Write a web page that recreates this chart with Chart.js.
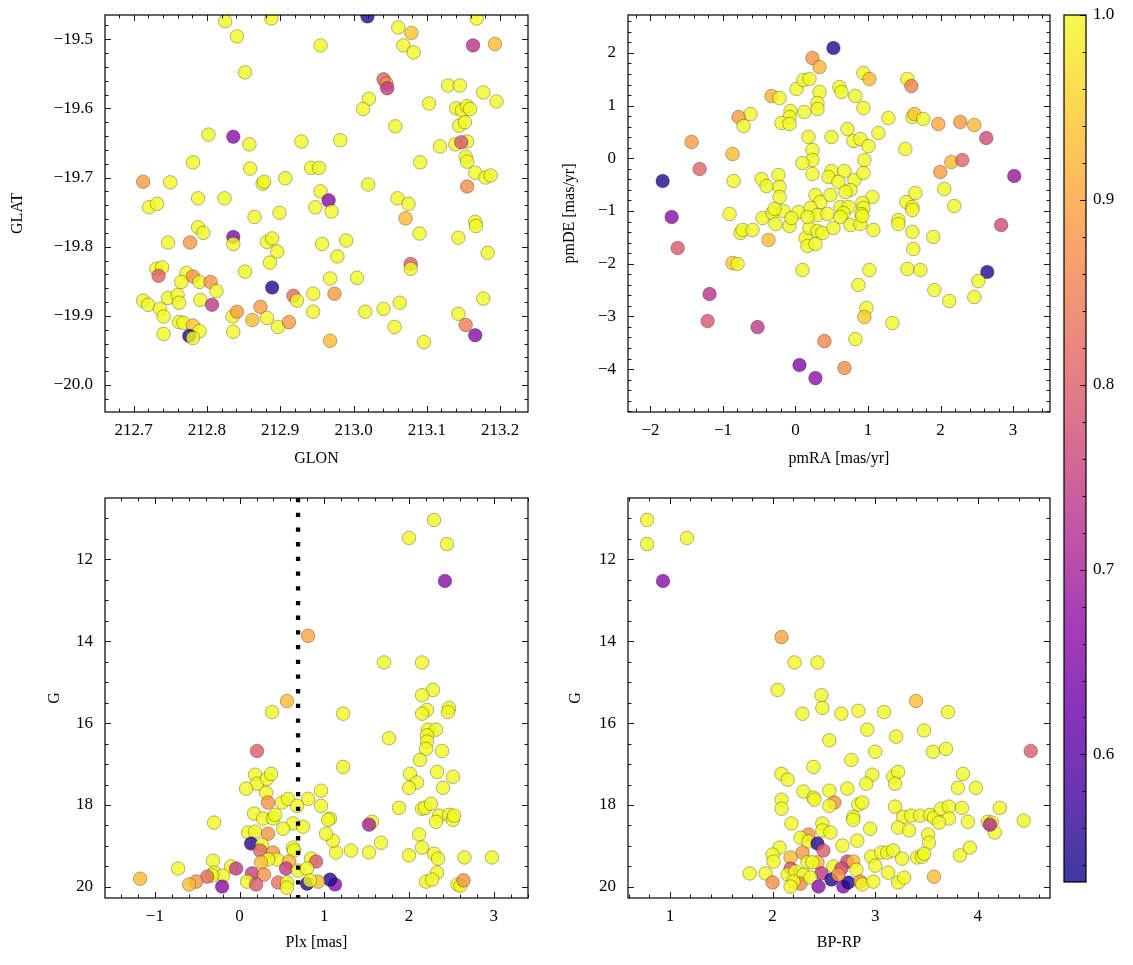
<!DOCTYPE html>
<html><head><meta charset="utf-8">
<script src="https://cdn.jsdelivr.net/npm/chart.js@4/dist/chart.umd.min.js"></script>
<style>
html,body{margin:0;padding:0;background:#fff;}
body{width:1133px;height:965px;position:relative;overflow:hidden;}
canvas{position:absolute;}
</style></head><body>
<canvas id="cTL" width="540" height="475" style="left:0px;top:0px;width:540px;height:475px"></canvas>
<canvas id="cTR" width="500" height="475" style="left:560px;top:0px;width:500px;height:475px"></canvas>
<canvas id="cBL" width="540" height="485" style="left:0px;top:480px;width:540px;height:485px"></canvas>
<canvas id="cBR" width="500" height="485" style="left:560px;top:480px;width:500px;height:485px"></canvas>
<canvas id="cCB" width="78" height="965" style="left:1055px;top:0px;width:78px;height:965px"></canvas>
<script>
// ---------------- DATA ----------------
// Panel 1: GLON / GLAT
const glonVals = [212.825,212.888,212.841,212.852,212.802,212.836,212.858,212.929,212.781,212.859,212.713,212.750,212.876,212.878,212.907,212.942,212.953,212.788,212.824,212.721,212.732,212.865,212.899,212.948,212.955,213.019,213.061,213.079,213.068,213.082,213.168,213.163,213.193,213.041,213.045,213.046,213.021,213.013,213.103,213.129,213.145,213.177,213.195,213.140,213.148,213.155,213.159,213.144,213.152,213.057,212.982,213.118,213.139,213.155,213.147,213.153,213.155,213.091,213.166,213.180,213.187,213.155,213.020,212.955,212.966,213.060,213.075,212.970,213.071,213.166,212.788,212.795,212.747,212.777,212.836,212.836,212.882,212.889,212.896,212.886,212.731,212.739,212.734,212.772,212.781,212.765,212.790,212.805,212.813,212.852,212.889,212.918,212.923,212.945,212.713,212.720,212.747,212.760,212.762,212.791,212.807,212.736,212.741,212.835,212.841,212.862,212.873,212.882,212.897,212.912,212.945,212.762,212.768,212.781,212.790,212.741,212.776,212.781,212.836,213.090,213.143,213.167,213.183,212.957,212.990,212.978,213.078,213.078,212.968,213.005,212.974,213.016,213.041,213.063,213.056,213.177,213.143,213.153,213.166,212.968,213.096];
const glatVals = [-19.474,-19.470,-19.496,-19.548,-19.638,-19.641,-19.652,-19.648,-19.678,-19.687,-19.706,-19.707,-19.709,-19.706,-19.701,-19.686,-19.686,-19.730,-19.730,-19.743,-19.738,-19.757,-19.751,-19.743,-19.509,-19.467,-19.483,-19.491,-19.509,-19.519,-19.470,-19.509,-19.507,-19.558,-19.564,-19.571,-19.586,-19.601,-19.593,-19.567,-19.567,-19.577,-19.590,-19.600,-19.603,-19.597,-19.601,-19.625,-19.620,-19.626,-19.646,-19.655,-19.652,-19.648,-19.649,-19.670,-19.677,-19.678,-19.693,-19.700,-19.697,-19.713,-19.710,-19.720,-19.733,-19.730,-19.738,-19.749,-19.759,-19.764,-19.772,-19.780,-19.794,-19.794,-19.786,-19.796,-19.793,-19.788,-19.807,-19.823,-19.832,-19.830,-19.842,-19.838,-19.843,-19.851,-19.851,-19.851,-19.864,-19.836,-19.859,-19.871,-19.878,-19.868,-19.878,-19.884,-19.874,-19.870,-19.881,-19.877,-19.884,-19.890,-19.901,-19.901,-19.894,-19.906,-19.887,-19.903,-19.916,-19.909,-19.894,-19.909,-19.910,-19.914,-19.922,-19.926,-19.929,-19.932,-19.923,-19.781,-19.787,-19.770,-19.809,-19.796,-19.791,-19.814,-19.825,-19.832,-19.846,-19.845,-19.868,-19.894,-19.890,-19.881,-19.916,-19.875,-19.897,-19.913,-19.928,-19.936,-19.938];
const probSky = [1,1,1,1,1,0.66,1,1,1,1,0.89,1,1,1,1,1,1,1,1,1,1,1,1,1,1,0.55,1,0.94,1,1,1,0.73,0.93,0.81,0.87,0.74,1,1,1,1,1,1,1,1,1,1,1,1,1,1,1,1,1,1,0.79,1,1,1,1,1,1,0.87,1,1,0.66,1,1,1,0.93,1,1,1,1,0.89,0.65,1,1,1,1,1,1,1,0.80,1,0.88,1,1,0.88,1,1,0.55,0.82,1,1,1,1,1,1,1,1,0.74,1,1,1,0.89,0.93,0.89,1,1,0.89,1,1,1,0.94,1,1,0.54,1,1,1,1,1,1,1,1,1,0.79,1,1,1,0.89,1,1,1,1,1,1,0.85,0.66,0.93,1];

// Panel 2: proper motions
const pmraVals = [0.523,0.234,0.331,0.014,0.110,0.193,0.331,0.303,0.303,-0.331,-0.220,-0.069,-0.083,-0.193,-0.083,0.124,-0.620,-0.785,-0.716,0.179,0.496,0.234,0.234,0.096,0.234,-1.433,-0.868,-1.322,-1.832,-0.854,-0.234,-0.468,-0.399,-0.220,-0.220,0.496,0.455,0.275,0.344,0.482,-1.708,-0.909,-0.455,-0.317,-0.165,-0.289,0.041,0.207,0.303,0.441,0.937,1.019,0.606,0.634,0.826,0.937,1.281,1.543,1.598,1.612,1.639,1.763,1.970,2.273,2.466,2.631,0.716,0.799,0.895,1.006,1.143,1.515,0.950,1.997,2.149,2.300,3.017,2.052,2.190,0.675,0.592,0.813,0.937,0.758,0.689,1.061,0.923,0.937,1.529,1.653,1.612,0.620,0.730,0.661,0.909,1.419,-1.625,-0.758,-0.730,-0.592,-0.372,-0.275,-0.083,-0.055,0.138,0.165,0.275,0.193,0.303,0.372,0.165,0.523,-0.868,-0.799,0.096,-1.185,-1.212,-0.523,0.399,0.055,0.275,2.837,2.645,2.521,2.466,2.121,1.915,1.901,1.625,1.612,1.419,1.543,1.722,1.074,1.019,0.868,0.978,0.950,1.336,0.826,0.675,0.620,0.758,0.895,0.923,1.612];
const pmdeVals = [2.093,1.903,1.732,1.315,1.486,1.505,1.258,1.049,0.935,1.182,1.144,0.897,0.783,0.670,0.651,0.878,0.840,0.783,0.613,0.404,0.404,0.157,-0.032,-0.089,-0.298,0.309,0.082,-0.203,-0.431,-0.431,-0.317,-0.393,-0.526,-0.545,-0.734,-0.241,-0.355,-0.696,-0.829,-0.696,-1.114,-1.057,-1.133,-1.038,-1.000,-0.962,-1.019,-0.943,-1.076,-1.057,1.618,1.505,1.353,1.258,1.182,0.954,0.764,1.505,1.372,0.783,0.840,0.745,0.651,0.689,0.632,0.385,0.556,0.328,0.366,0.233,0.480,0.176,-0.032,-0.260,-0.070,-0.032,-0.336,-0.583,-0.905,-0.241,-0.450,-0.412,-0.279,-0.602,-0.639,-0.734,-0.848,-0.943,-0.829,-0.658,-0.924,-0.924,-0.924,-1.038,-1.057,-1.171,-1.702,-1.417,-1.360,-1.360,-1.550,-1.247,-1.285,-1.133,-1.512,-1.664,-1.626,-1.323,-1.379,-1.417,-1.114,-1.323,-1.987,-2.006,-2.120,-2.576,-3.089,-3.203,-3.469,-3.924,-4.172,-1.266,-2.158,-2.329,-2.633,-2.709,-2.500,-1.493,-1.721,-1.398,-1.247,-2.101,-2.120,-1.360,-2.120,-2.405,-2.842,-3.013,-3.127,-3.431,-3.981,-1.114,-1.266,-1.247,-1.095,-0.981];
const probPM = [0.55,0.88,0.92,1,1,1,1,1,1,0.92,1,1,1,1,1,1,1,0.89,1,1,1,1,1,1,1,0.89,0.93,0.81,0.55,1,1,1,1,1,1,1,1,1,1,1,0.66,1,1,1,1,1,1,1,1,1,1,0.93,1,1,1,1,1,1,0.85,1,0.94,1,0.90,0.89,0.93,0.77,1,1,1,1,1,1,1,0.89,0.93,0.81,0.68,1,1,1,1,1,1,1,1,1,1,1,1,1,1,1,1,1,1,1,0.79,1,1,1,0.93,1,1,1,1,1,1,1,1,1,1,1,0.95,1,1,0.73,0.79,0.74,0.86,0.65,0.67,0.77,0.55,1,1,1,1,1,1,1,1,1,1,1,1,1,1,0.95,1,1,0.87,1,1,1,1,1];

// Panel 3: parallax vs G
const plxVals = [2.294,1.999,2.447,2.423,0.808,1.704,2.153,2.283,2.153,2.212,2.153,2.471,2.459,1.221,2.224,2.318,2.212,2.212,2.200,2.129,1.763,2.388,1.221,2.011,2.330,2.094,1.999,2.518,2.400,1.881,2.153,2.188,2.259,2.353,2.318,2.471,2.518,2.530,1.067,1.562,1.527,2.118,1.669,1.315,1.527,1.138,1.103,2.153,1.999,2.294,2.342,2.653,2.978,2.330,2.200,2.271,2.571,2.606,2.642,1.126,1.067,0.560,0.383,0.206,0.183,0.206,0.324,0.371,0.077,0.313,0.336,0.501,0.572,0.808,0.961,0.961,0.678,0.171,0.277,0.395,0.419,-0.301,0.631,0.749,0.513,1.044,0.100,0.183,0.336,1.020,0.136,0.265,0.631,0.643,0.242,0.395,0.442,0.336,-0.313,0.254,0.584,0.843,0.902,-0.725,-0.100,-0.041,0.548,0.690,0.796,-0.301,-0.195,-0.324,-0.383,0.147,0.289,0.088,0.454,0.560,0.195,0.796,0.926,-0.206,-0.513,-0.596,-1.173,0.560,0.831];
const gPlxVals = [11.04,11.48,11.63,12.53,13.87,14.52,14.52,15.19,15.32,15.68,15.77,15.63,15.73,15.77,16.16,16.16,16.30,16.45,16.63,16.90,16.37,16.68,17.07,17.24,17.19,17.45,17.58,17.31,17.58,18.07,18.09,18.07,17.97,18.26,18.41,18.24,18.36,18.26,18.33,18.41,18.48,18.72,18.92,19.11,19.16,19.16,18.87,19.04,19.23,19.19,19.31,19.28,19.28,19.65,19.87,19.82,19.94,19.97,19.84,19.94,19.82,15.46,15.73,16.68,17.26,17.48,17.36,17.24,17.60,17.70,17.94,17.94,17.85,17.85,17.65,18.02,18.02,18.21,18.33,18.33,18.24,18.43,18.45,18.53,18.58,18.36,18.67,18.65,18.70,18.70,18.94,18.97,19.04,19.11,19.11,19.16,19.33,19.33,19.36,19.40,19.38,19.31,19.38,19.55,19.50,19.55,19.55,19.60,19.55,19.65,19.72,19.72,19.75,19.67,19.70,19.87,19.89,19.89,19.94,19.92,19.87,19.99,19.87,19.94,19.80,20.02,19.84];
const probPlx = [1,1,1,0.66,0.90,1,1,1,1,1,1,1,1,1,1,1,1,1,1,1,1,1,1,1,1,1,1,1,1,1,1,1,1,1,1,1,1,1,1,1,0.70,1,1,1,1,1,1,1,1,1,1,1,1,1,1,1,1,1,0.88,0.66,0.55,0.93,1,0.80,1,1,1,1,1,1,0.88,1,1,1,1,1,1,1,1,1,1,1,1,1,1,1,1,1,0.88,1,0.55,1,1,1,0.81,0.89,1,1,1,0.93,0.92,1,0.79,1,1,0.74,0.74,1,1,1,1,1,0.82,0.75,0.88,1,0.83,1,0.79,0.55,0.93,0.66,0.88,0.93,0.93,1,1];

// Panel 4: colour-magnitude diagram
const bprpVals = [0.777,0.777,1.165,0.932,2.087,2.214,2.437,2.049,2.476,2.485,2.291,2.670,2.835,3.087,3.398,3.709,2.922,2.553,3.204,3.476,3.000,3.563,3.689,4.515,2.767,2.398,2.087,2.146,2.971,3.175,3.223,3.194,3.854,2.913,2.301,2.553,2.728,3.806,3.981,2.398,2.408,2.087,2.087,2.602,2.553,2.835,2.874,3.194,3.272,3.350,3.437,3.534,3.573,3.641,3.718,3.845,3.718,3.621,4.214,3.903,4.097,4.136,4.165,4.117,4.447,2.786,2.786,2.184,2.485,2.485,2.563,2.951,3.223,3.330,3.515,3.524,2.350,2.272,2.350,2.825,2.437,2.495,2.068,2.000,2.010,2.291,2.175,2.680,2.961,3.058,3.117,3.175,3.262,3.408,3.456,3.476,3.825,3.922,3.000,2.437,2.340,2.388,2.592,2.728,2.786,2.175,2.146,2.223,2.301,2.476,2.670,2.816,1.777,1.932,2.000,2.272,2.204,2.175,2.369,2.447,2.573,2.689,2.738,2.854,2.874,2.981,3.126,3.223,3.282,3.573,2.641];
const gCmdVals = [11.04,11.63,11.48,12.53,13.90,14.52,14.52,15.19,15.32,15.63,15.77,15.77,15.70,15.73,15.46,15.73,16.16,16.42,16.33,16.18,16.70,16.70,16.63,16.68,16.90,17.07,17.24,17.38,17.26,17.31,17.19,17.48,17.24,17.48,17.67,17.65,17.60,17.58,17.58,17.82,17.87,17.87,18.09,17.94,18.02,17.99,17.94,18.04,18.29,18.26,18.26,18.24,18.31,18.09,18.04,18.07,18.33,18.43,18.07,18.41,18.41,18.43,18.67,18.48,18.38,18.29,18.36,18.45,18.45,18.62,18.67,18.58,18.55,18.62,18.72,18.92,18.72,18.80,18.89,18.87,18.94,19.11,19.04,19.21,19.38,19.16,19.28,18.99,19.26,19.16,19.16,19.11,19.31,19.28,19.26,19.19,19.23,19.04,19.48,19.40,19.40,19.40,19.50,19.38,19.38,19.55,19.70,19.62,19.70,19.67,19.55,19.58,19.67,19.67,19.89,19.92,19.87,19.99,19.77,19.99,19.82,19.99,19.89,19.87,19.94,19.87,19.65,19.89,19.77,19.75,19.70];
const probCmd = [1,1,1,0.66,0.90,1,1,1,1,1,1,1,1,1,0.93,1,1,1,1,1,1,1,1,0.80,1,1,1,1,1,1,1,1,1,1,1,1,1,1,1,1,1,1,1,0.88,1,1,1,1,1,1,1,1,1,1,1,1,1,1,1,1,1,1,1,0.72,1,1,1,1,1,1,1,1,1,1,1,1,0.88,1,1,1,0.55,0.80,1,1,1,0.89,0.93,1,1,1,1,1,1,1,1,1,1,1,1,0.93,1,1,1,0.76,0.93,0.79,1,1,1,0.74,0.77,1,1,1,0.87,0.87,1,1,1,0.66,0.55,0.66,0.54,0.88,1,1,1,1,1,0.93,0.88];

// threshold line and axis ticks
const PLX_CUT = 0.69;
const glonTicks = [212.7, 212.8, 212.9, 213.0, 213.1, 213.2];
const glatTicks = [-20.0, -19.9, -19.8, -19.7, -19.6, -19.5];
const pmraTicks = [-2, -1, 0, 1, 2, 3];
const pmdeTicks = [-4, -3, -2, -1, 0, 1, 2];
const plxTicks = [-1, 0, 1, 2, 3];
const gTicks = [12, 14, 16, 18, 20];
const bprpTicks = [1, 2, 3, 4];
const cbTicks = [0.6, 0.7, 0.8, 0.9, 1.0];
const V_MIN = 0.531, V_MAX = 1.0;

// ---------------- STYLE ----------------
const FONT = '"Liberation Serif", "Times New Roman", serif';
const TICK_FS = 17, TITLE_FS = 16;
Chart.defaults.font.family = FONT;
Chart.defaults.font.size = TICK_FS;
Chart.defaults.color = '#000';

const PLASMA = ['#0d0887','#41049d','#6a00a8','#8f0da4','#b12a90','#cc4778','#e16462','#f2844b','#fca636','#fcce25','#f0f921'];
function hex(h){return [parseInt(h.slice(1,3),16),parseInt(h.slice(3,5),16),parseInt(h.slice(5,7),16)];}
function plasma(t, alpha){
  t = Math.max(0, Math.min(1, t));
  const f = t*10, i = Math.min(9, Math.floor(f)), r = f - i;
  const a = hex(PLASMA[i]), b = hex(PLASMA[i+1]);
  const c = a.map((v,k)=>Math.round(v + (b[k]-v)*r));
  return `rgba(${c[0]},${c[1]},${c[2]},${alpha})`;
}
function probColor(p){ return plasma((p - V_MIN)/(V_MAX - V_MIN), 0.8); }
const minus = s => String(s).replace('-', '\u2212');
const noPad = s => { s.paddingTop = 0; s.paddingBottom = 0; s.paddingLeft = 0; s.paddingRight = 0; };

const mplFrame = {
  id: 'mplFrame',
  afterDatasetsDraw(chart, args, o) {
    const {ctx, chartArea: a} = chart;
    ctx.save();
    ctx.strokeStyle = '#000';
    ctx.lineWidth = 0.9;
    const drawAxis = (scale, minorStep, sides, horizontal) => {
      const majors = scale.ticks.map(t => t.value);
      const minors = [];
      if (minorStep) {
        const lo = Math.min(scale.min, scale.max), hi = Math.max(scale.min, scale.max);
        for (let k = Math.ceil(lo/minorStep - 1e-6); k <= Math.floor(hi/minorStep + 1e-6); k++) {
          const v = k*minorStep;
          if (!majors.some(m => Math.abs(m - v) < minorStep*0.05)) minors.push(v);
        }
      }
      const mark = (v, len) => {
        const p = Math.round(scale.getPixelForValue(v)) + 0.5;
        ctx.beginPath();
        if (horizontal) {
          if (sides.includes('bottom')) { ctx.moveTo(p, a.bottom); ctx.lineTo(p, a.bottom - len); }
          if (sides.includes('top')) { ctx.moveTo(p, a.top); ctx.lineTo(p, a.top + len); }
        } else {
          if (sides.includes('left')) { ctx.moveTo(a.left, p); ctx.lineTo(a.left + len, p); }
          if (sides.includes('right')) { ctx.moveTo(a.right, p); ctx.lineTo(a.right - len, p); }
        }
        ctx.stroke();
      };
      majors.forEach(v => mark(v, o.majorLen));
      minors.forEach(v => mark(v, o.minorLen));
    };
    if (o.xSides) drawAxis(chart.scales.x, o.xMinor, o.xSides, true);
    drawAxis(chart.scales.y, o.yMinor, o.ySides, false);
    ctx.lineWidth = 1.2;
    ctx.strokeRect(a.left, a.top, a.right - a.left, a.bottom - a.top);
    ctx.restore();
  }
};

function pointDataset(xs, ys, ps) {
  return {
    data: xs.map((x, i) => ({x: x, y: ys[i]})),
    backgroundColor: ps.map(probColor),
    borderColor: 'rgba(0,0,0,0.45)',
    borderWidth: 0.65,
    pointRadius: 6.8,
    clip: 0,
    order: 2
  };
}

function panel(id, c) {
  const datasets = [pointDataset(c.xs, c.ys, c.ps)];
  if (c.extra) datasets.unshift(c.extra);
  return new Chart(document.getElementById(id), {
    type: 'scatter',
    data: { datasets },
    options: {
      responsive: false, animation: false, events: [],
      layout: { padding: c.pad },
      plugins: {
        legend: {display: false}, tooltip: {enabled: false},
        mplFrame: { xSides: ['bottom','top'], ySides: ['left','right'], xMinor: c.xMinor, yMinor: c.yMinor, majorLen: 6, minorLen: 3.5 }
      },
      scales: {
        x: {
          type: 'linear', min: c.xMin, max: c.xMax,
          afterBuildTicks: s => { s.ticks = c.xTicks.map(v => ({value: v})); },
          afterFit: s => { s.height = c.xAxisH; noPad(s); },
          grid: {display: false, drawTicks: false}, border: {display: false},
          ticks: {padding: 8, autoSkip: false, maxRotation: 0, callback: c.xFmt},
          title: {display: true, text: c.xTitle, font: {size: TITLE_FS}, padding: {top: 0, bottom: c.xTitlePad}}
        },
        y: {
          type: 'linear', min: c.yMin, max: c.yMax, reverse: !!c.yReverse,
          afterBuildTicks: s => { s.ticks = c.yTicks.map(v => ({value: v})); },
          afterFit: s => { s.width = c.yAxisW; noPad(s); },
          grid: {display: false, drawTicks: false}, border: {display: false},
          ticks: {padding: 12, autoSkip: false, callback: c.yFmt},
          title: {display: true, text: c.yTitle, font: {size: TITLE_FS}, padding: {top: c.yTitlePad, bottom: 0}}
        }
      }
    },
    plugins: [mplFrame]
  });
}

const fmt1 = v => minus(Number(v).toFixed(1));
const fmt0 = v => minus(Number(v).toFixed(0));

panel('cTL', {
  xs: glonVals, ys: glatVals, ps: probSky,
  xMin: 212.661, xMax: 213.238, yMin: -20.039, yMax: -19.465,
  xTicks: glonTicks, yTicks: glatTicks, xMinor: 0.02, yMinor: 0.02,
  xFmt: fmt1, yFmt: fmt1, xTitle: 'GLON', yTitle: 'GLAT',
  pad: {left: 0, top: 15, right: 12, bottom: 0}, xAxisH: 63, yAxisW: 105,
  xTitlePad: 6.4, yTitlePad: 8.4
});

panel('cTR', {
  xs: pmraVals, ys: pmdeVals, ps: probPM,
  xMin: -2.31, xMax: 3.51, yMin: -4.815, yMax: 2.72,
  xTicks: pmraTicks, yTicks: pmdeTicks, xMinor: 0.2, yMinor: 0.2,
  xFmt: fmt0, yFmt: fmt0, xTitle: 'pmRA [mas/yr]', yTitle: 'pmDE [mas/yr]',
  pad: {left: 0, top: 15, right: 10, bottom: 0}, xAxisH: 63, yAxisW: 68,
  xTitlePad: 6.4, yTitlePad: 0.4
});

panel('cBL', {
  xs: plxVals, ys: gPlxVals, ps: probPlx,
  xMin: -1.588, xMax: 3.403, yMin: 10.505, yMax: 20.27, yReverse: true,
  xTicks: plxTicks, yTicks: gTicks, xMinor: 0.2, yMinor: 0.5,
  xFmt: fmt0, yFmt: fmt0, xTitle: 'Plx [mas]', yTitle: 'G',
  pad: {left: 0, top: 18, right: 12, bottom: 0}, xAxisH: 67, yAxisW: 105,
  xTitlePad: 12.4, yTitlePad: 45.4,
  extra: {
    type: 'line',
    data: [{x: PLX_CUT, y: 10.505}, {x: PLX_CUT, y: 20.27}],
    borderColor: '#000', borderWidth: 4.3, borderDash: [4.3, 10.4],
    pointRadius: 0, showLine: true, fill: false, clip: 0, order: 1
  }
});

panel('cBR', {
  xs: bprpVals, ys: gCmdVals, ps: probCmd,
  xMin: 0.591, xMax: 4.703, yMin: 10.505, yMax: 20.27, yReverse: true,
  xTicks: bprpTicks, yTicks: gTicks, xMinor: 0.2, yMinor: 0.5,
  xFmt: fmt0, yFmt: fmt0, xTitle: 'BP-RP', yTitle: 'G',
  pad: {left: 0, top: 18, right: 10, bottom: 0}, xAxisH: 67, yAxisW: 68,
  xTitlePad: 12.4, yTitlePad: 6.4
});

// colour bar
new Chart(document.getElementById('cCB'), {
  type: 'bar',
  data: {
    labels: [''],
    datasets: [{
      data: [[V_MIN, V_MAX]],
      backgroundColor: (c) => {
        const ch = c.chart;
        if (!ch.chartArea) return 'rgba(0,0,0,0)';
        const y = ch.scales.y;
        const g = ch.ctx.createLinearGradient(0, y.getPixelForValue(V_MIN), 0, y.getPixelForValue(V_MAX));
        for (let i = 0; i <= 20; i++) g.addColorStop(i/20, plasma(i/20, 0.8));
        return g;
      },
      borderWidth: 0, barPercentage: 1, categoryPercentage: 1
    }]
  },
  options: {
    responsive: false, animation: false, events: [],
    layout: {padding: {left: 9, top: 15, right: 0, bottom: 83}},
    plugins: {
      legend: {display: false}, tooltip: {enabled: false},
      mplFrame: { xSides: null, ySides: ['right'], yMinor: 0.02, majorLen: 6, minorLen: 3.5 }
    },
    scales: {
      x: {display: false},
      y: {
        position: 'right', min: V_MIN, max: V_MAX,
        afterBuildTicks: s => { s.ticks = cbTicks.map(v => ({value: v})); },
        afterFit: s => { s.width = 47; noPad(s); },
        grid: {display: false, drawTicks: false}, border: {display: false},
        ticks: {padding: 7, autoSkip: false, callback: fmt1}
      }
    }
  },
  plugins: [mplFrame]
});
</script>
</body></html>
